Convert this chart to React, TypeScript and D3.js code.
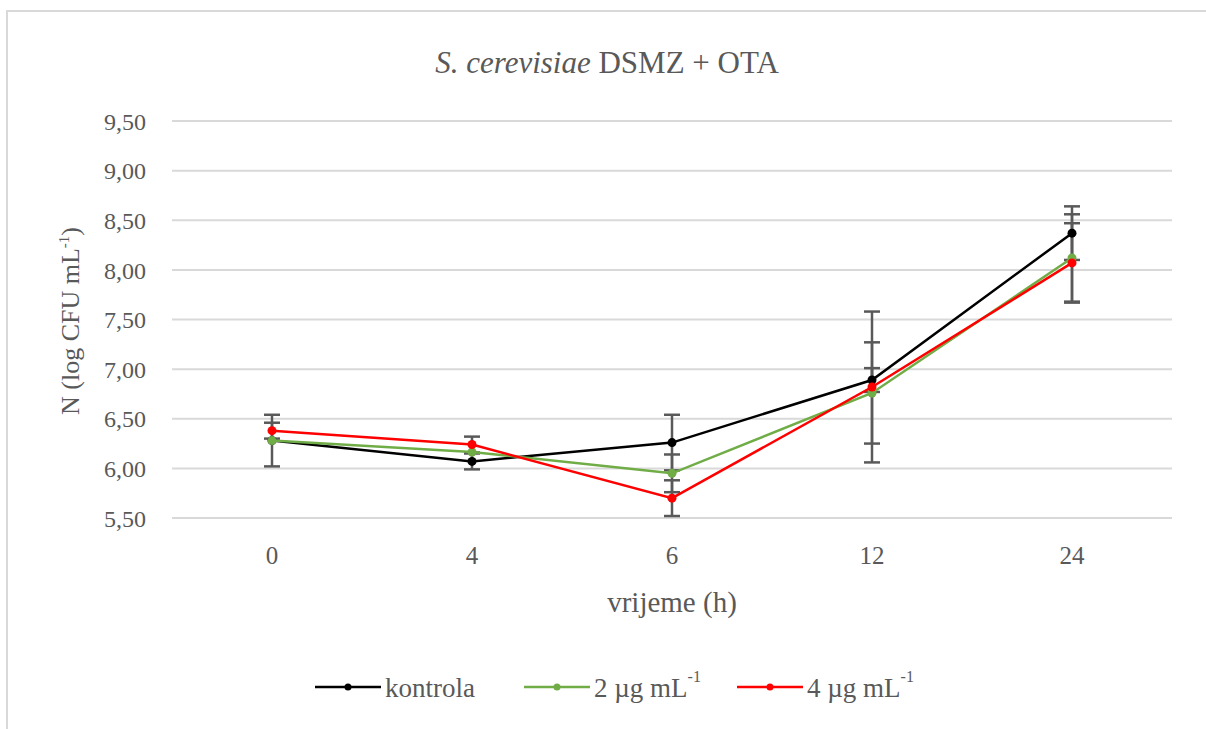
import React from "react";
import * as d3 from "d3";

const categories = ["0", "4", "6", "12", "24"];
const yTicks = [5.5, 6.0, 6.5, 7.0, 7.5, 8.0, 8.5, 9.0, 9.5];

const kontrola = [6.28, 6.07, 6.26, 6.89, 8.37];
const kontrolaErr = [0.26, 0.08, 0.28, 0.12, 0.27];
const dose2 = [6.28, 6.165, 5.95, 6.76, 8.12];
const dose2Err = [0.0, 0.0, 0.19, 0.51, 0.44];
const dose4 = [6.38, 6.24, 5.7, 6.82, 8.07];
const dose4Err = [0.08, 0.08, 0.18, 0.76, 0.4];

const seriesNames = ["kontrola", "2 µg mL", "4 µg mL"];
const seriesColors = ["#000000", "#70ad47", "#ff0000"];

const W = 1206;
const H = 729;
const gray = "#595959";
const font = "Liberation Serif, Tinos, DejaVu Serif, Times New Roman, serif";

export default function App() {
  const x = d3.scaleBand<string>().domain(categories).range([172, 1172]);
  const y = d3.scaleLinear().domain([5.5, 9.5]).range([518, 121]);
  const cx = (c: string) => (x(c) as number) + x.bandwidth() / 2;

  const series = [
    { name: seriesNames[0], vals: kontrola, err: kontrolaErr, color: seriesColors[0] },
    { name: seriesNames[1], vals: dose2, err: dose2Err, color: seriesColors[1] },
    { name: seriesNames[2], vals: dose4, err: dose4Err, color: seriesColors[2] },
  ];

  const line = d3
    .line<number>()
    .x((_, i) => cx(categories[i]))
    .y((d) => y(d));

  const legendItems = [
    { x0: 315, sup: false },
    { x0: 524, sup: true },
    { x0: 737, sup: true },
  ];

  const ts = { fontFamily: font };

  return (
    <svg
      width={W}
      height={H}
      style={{ position: "absolute", left: 0, top: 0, background: "#fff" }}
    >
      <rect x={7} y={11} width={1230} height={760} fill="#fff" stroke="#d9d9d9" strokeWidth={2} />
      <text x={607} y={73} textAnchor="middle" style={ts} fontSize={31} fill={gray}>
        <tspan fontStyle="italic">S. cerevisiae</tspan>
        <tspan> DSMZ  + OTA</tspan>
      </text>

      {yTicks.map((t) => (
        <g key={t}>
          <line x1={172} x2={1172} y1={y(t)} y2={y(t)} stroke="#d9d9d9" strokeWidth={2} />
          <text x={146} y={y(t)} dy="0.36em" textAnchor="end" style={ts} fontSize={24} fill={gray}>
            {t.toFixed(2).replace(".", ",")}
          </text>
        </g>
      ))}

      {categories.map((c) => (
        <text key={c} x={cx(c)} y={564} textAnchor="middle" style={ts} fontSize={25} fill={gray}>
          {c}
        </text>
      ))}

      <text x={672} y={612} textAnchor="middle" style={ts} fontSize={29} fill={gray}>
        vrijeme (h)
      </text>

      <text
        transform={`translate(79,321) rotate(-90)`}
        textAnchor="middle"
        style={ts}
        fontSize={26}
        fill={gray}
      >
        N (log CFU mL
        <tspan fontSize={15} dy={-10}>-1</tspan>
        <tspan dy={10}>)</tspan>
      </text>

      {series.map((s, si) =>
        s.vals.map((v, i) =>
          s.err[i] > 0 ? (
            <g key={`e${si}-${i}`} stroke="#595959" strokeWidth={2.5}>
              <line x1={cx(categories[i])} x2={cx(categories[i])} y1={y(v - s.err[i])} y2={y(v + s.err[i])} />
              <line x1={cx(categories[i]) - 8} x2={cx(categories[i]) + 8} y1={y(v - s.err[i])} y2={y(v - s.err[i])} />
              <line x1={cx(categories[i]) - 8} x2={cx(categories[i]) + 8} y1={y(v + s.err[i])} y2={y(v + s.err[i])} />
            </g>
          ) : null
        )
      )}

      {series.map((s, si) => (
        <g key={`s${si}`}>
          <path d={line(s.vals) as string} fill="none" stroke={s.color} strokeWidth={2.5} />
          {s.vals.map((v, i) => (
            <circle key={i} cx={cx(categories[i])} cy={y(v)} r={4.5} fill={s.color} />
          ))}
        </g>
      ))}

      {series.map((s, si) => {
        const li = legendItems[si];
        return (
          <g key={`l${si}`}>
            <line x1={li.x0} x2={li.x0 + 66} y1={687} y2={687} stroke={s.color} strokeWidth={2.5} />
            <circle cx={li.x0 + 33} cy={687} r={3.5} fill={s.color} />
            <text x={li.x0 + 70} y={697} style={ts} fontSize={27} fill={gray}>
              {s.name}
              {li.sup ? (
                <tspan fontSize={16} dy={-15}>
                  -1
                </tspan>
              ) : null}
            </text>
          </g>
        );
      })}
    </svg>
  );
}
